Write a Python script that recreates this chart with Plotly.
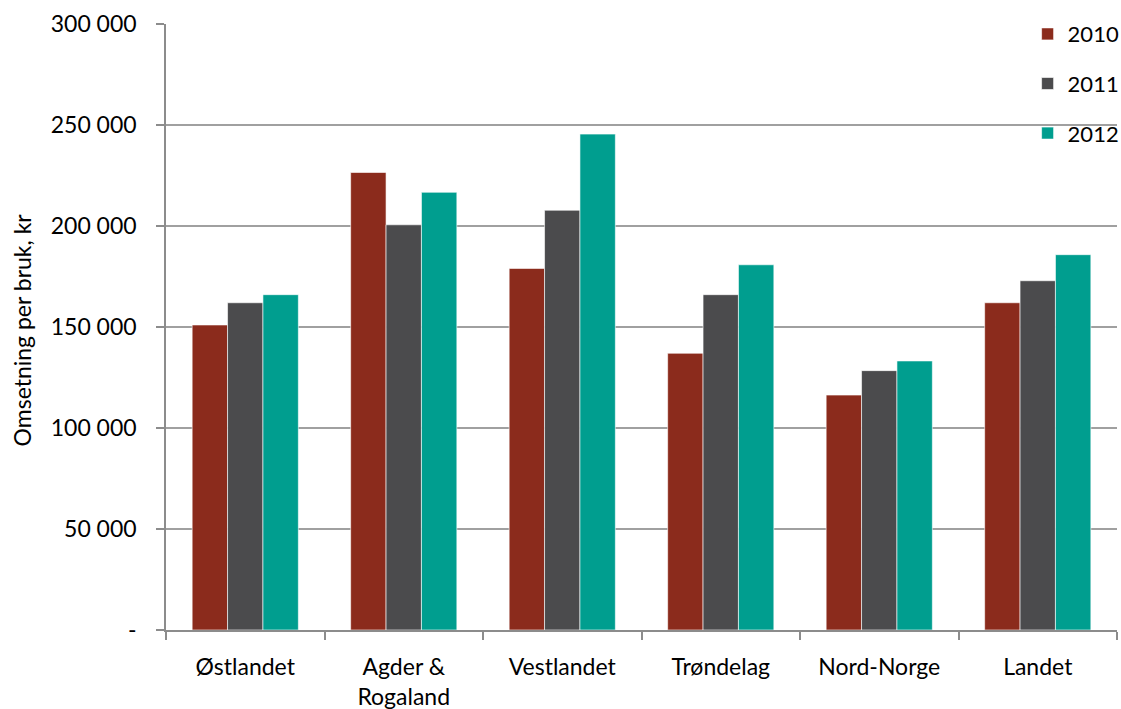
import plotly.graph_objects as go

categories = ["Østlandet", "Agder &<br>Rogaland", "Vestlandet", "Trøndelag", "Nord-Norge", "Landet"]
years = ["2010", "2011", "2012"]
values_2010 = [151000, 226500, 179000, 137000, 116300, 162000]
values_2011 = [162000, 200600, 207800, 166000, 128400, 172900]
values_2012 = [166000, 216700, 245500, 180800, 133200, 185800]
colors = ["#8B2B1C", "#4B4B4D", "#009E8F"]
y_tickvals = [0, 50000, 100000, 150000, 200000, 250000, 300000]
y_ticktext = ["-", "50 000", "100 000", "150 000", "200 000", "250 000", "300 000"]
y_title = "Omsetning per bruk, kr"

font_family = "Lato, 'Open Sans', sans-serif"

fig = go.Figure()
for yr, vals, col in zip(years, [values_2010, values_2011, values_2012], colors):
    fig.add_trace(go.Bar(
        x=categories, y=vals, name=yr, legendgroup=yr,
        marker=dict(color=col, line=dict(color="rgba(255,255,255,0.6)", width=1)),
    ))

fig.update_layout(
    width=1121, height=709,
    margin=dict(l=166, r=4, t=24, b=79, autoexpand=False),
    paper_bgcolor="white", plot_bgcolor="white",
    barmode="group", bargap=0.33, bargroupgap=0,
    font=dict(family=font_family, size=22, color="black"),
    legend=dict(x=1.008, xanchor="right", y=1.018, yanchor="top",
                bgcolor="rgba(0,0,0,0)", font=dict(size=22),
                tracegroupgap=18, itemwidth=30),
    showlegend=True,
)
fig.update_xaxes(
    showline=True, linecolor="#8C8C8C", linewidth=1.5,
    ticks="outside", tickson="boundaries", ticklen=8, tickcolor="#8C8C8C", tickwidth=1.5,
    tickfont=dict(size=23), showgrid=False, ticklabelstandoff=16, automargin=False,
)
fig.update_yaxes(
    range=[0, 300000], tickvals=y_tickvals, ticktext=y_ticktext,
    showline=True, linecolor="#8C8C8C", linewidth=1.5,
    ticks="outside", ticklen=8, tickcolor="#8C8C8C", tickwidth=1.5,
    showgrid=True, gridcolor="#A0A0A0", gridwidth=1.5,
    tickfont=dict(size=23), zeroline=False, ticklabelstandoff=15, automargin=False,
)
fig.add_annotation(
    text=y_title, textangle=-90, xref="paper", yref="paper",
    x=-0.151, y=0.495, xanchor="center", yanchor="middle",
    showarrow=False, font=dict(size=23),
)
fig.write_html("out.html", config={"displayModeBar": False},
               post_script="document.body.style.margin='0';")
